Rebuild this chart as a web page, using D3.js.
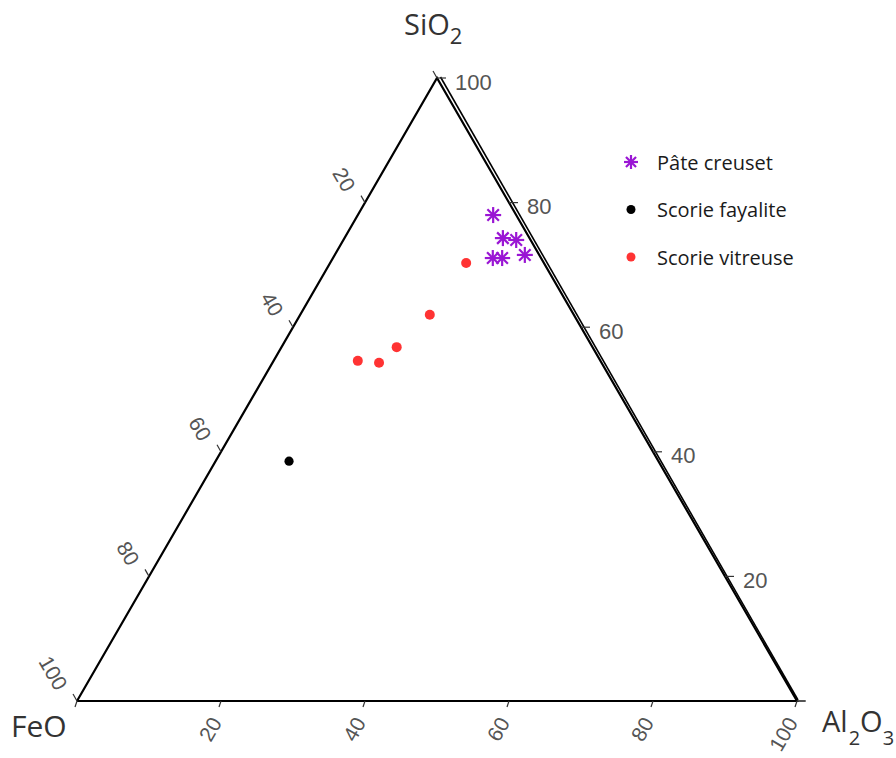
<!DOCTYPE html>
<html>
<head>
<meta charset="utf-8">
<script src="https://cdn.jsdelivr.net/npm/d3@7"></script>
<style>
  html, body { margin: 0; padding: 0; background: #fff; }
  svg { display: block; }
</style>
</head>
<body>
<svg id="chart" width="896" height="758"></svg>
<script>
// ---- Data (percent: SiO2, Al2O3, FeO) ----
const seriesNames = ["Pâte creuset", "Scorie fayalite", "Scorie vitreuse"];
const pateSiO2  = [78.0, 74.3, 74.0, 71.1, 71.1, 71.6];
const pateAl2O3 = [18.8, 22.0, 24.0, 22.2, 23.5, 26.4];
const pateFeO   = [3.2, 3.7, 2.0, 6.7, 5.4, 2.0];
const fayaSiO2  = [38.5];
const fayaAl2O3 = [10.2];
const fayaFeO   = [51.3];
const vitrSiO2  = [70.3, 62.0, 56.8, 54.6, 54.3];
const vitrAl2O3 = [18.9, 18.0, 16.0, 11.7, 14.8];
const vitrFeO   = [10.8, 20.0, 27.2, 33.7, 30.9];
const tickValues = [0, 20, 40, 60, 80, 100];
const tickLabels = ["", "20", "40", "60", "80", "100"];

const svg = d3.select("#chart");

// ternary projection via linear scales
const xs = d3.scaleLinear().domain([0, 100]).range([77, 797]);   // Al2O3 + SiO2/2
const ys = d3.scaleLinear().domain([0, 100]).range([701, 78]);   // SiO2
function proj(si, al, fe) {
  const tot = si + al + fe;
  const s = si / tot * 100, a = al / tot * 100;
  return [xs(a + s / 2), ys(s)];
}
const Vfe = proj(0, 0, 100), Val = proj(0, 100, 0), Vsi = proj(100, 0, 0);

// ---- Triangle ----
const tri = d3.line()([Vfe, Val, Vsi, Vfe]);
svg.append("path").attr("d", tri).attr("fill", "none")
  .attr("stroke", "#000").attr("stroke-width", 2.2).attr("stroke-linejoin", "miter");
// doubled right edge as in reference
svg.append("line")
  .attr("x1", Vsi[0] + 3.5).attr("y1", Vsi[1] - 1)
  .attr("x2", Val[0] + 1).attr("y2", Val[1] - 1)
  .attr("stroke", "#000").attr("stroke-width", 1.6);

const tickColor = "#333";
const labColor = "#555";
const labFont = "Liberation Sans, Arial, sans-serif";

// ---- SiO2 axis: right edge (FeO = 0) ----
tickValues.forEach((v, i) => {
  const p = proj(v, 100 - v, 0);
  svg.append("line").attr("x1", p[0]).attr("y1", p[1]).attr("x2", p[0] + 9).attr("y2", p[1])
    .attr("stroke", tickColor).attr("stroke-width", 1.2);
  if (tickLabels[i]) {
    svg.append("text").attr("x", p[0] + 18).attr("y", p[1] + 4)
      .attr("dominant-baseline", "central")
      .attr("font-family", labFont).attr("font-size", 22).attr("fill", labColor)
      .text(tickLabels[i]);
  }
});

// ---- FeO axis: left edge (Al2O3 = 0) ----
tickValues.forEach((v, i) => {
  const p = proj(100 - v, 0, v);
  svg.append("line").attr("x1", p[0]).attr("y1", p[1])
    .attr("x2", p[0] - 4).attr("y2", p[1] - 7)
    .attr("stroke", tickColor).attr("stroke-width", 1.2);
  if (tickLabels[i]) {
    const lx = p[0] - 15, ly = p[1] - 13;
    svg.append("text").attr("x", lx).attr("y", ly)
      .attr("transform", `rotate(60,${lx},${ly})`)
      .attr("text-anchor", "end").attr("dominant-baseline", "central")
      .attr("font-family", labFont).attr("font-size", 21).attr("fill", labColor)
      .text(tickLabels[i]);
  }
});

// ---- Al2O3 axis: bottom edge (SiO2 = 0) ----
tickValues.forEach((v, i) => {
  const p = proj(0, v, 100 - v);
  svg.append("line").attr("x1", p[0]).attr("y1", p[1])
    .attr("x2", p[0] - 2).attr("y2", p[1] + 6)
    .attr("stroke", tickColor).attr("stroke-width", 1.2);
  if (tickLabels[i]) {
    const lx = p[0] - 5, ly = p[1] + 18;
    svg.append("text").attr("x", lx).attr("y", ly)
      .attr("transform", `rotate(-60,${lx},${ly})`)
      .attr("text-anchor", "end").attr("dominant-baseline", "central")
      .attr("font-family", labFont).attr("font-size", 21).attr("fill", labColor)
      .text(tickLabels[i]);
  }
});
// SiO2 0 tick extension at bottom right
svg.append("line").attr("x1", Val[0]).attr("y1", Val[1]).attr("x2", Val[0] + 8).attr("y2", Val[1])
  .attr("stroke", tickColor).attr("stroke-width", 1.2);

// ---- Axis titles ----
const titleFont = "Open Sans, Noto Sans, sans-serif";
const tSi = svg.append("text").attr("x", 404).attr("y", 35)
  .attr("font-family", titleFont).attr("font-size", 29).attr("fill", "#333");
tSi.append("tspan").text("SiO");
tSi.append("tspan").attr("font-size", 22).attr("dy", 9).text("2");

svg.append("text").attr("x", 11).attr("y", 737)
  .attr("font-family", titleFont).attr("font-size", 30).attr("fill", "#333").text("FeO");

const tAl = svg.append("text").attr("x", 822).attr("y", 732)
  .attr("font-family", titleFont).attr("font-size", 29).attr("fill", "#333");
tAl.append("tspan").text("Al");
tAl.append("tspan").attr("font-size", 20).attr("dy", 13).attr("dx", 1).text("2");
tAl.append("tspan").attr("dy", -13).text("O");
tAl.append("tspan").attr("font-size", 20).attr("dy", 13).text("3");

// ---- Markers ----
const purple = "#9a16d4", red = "#ff3333", black = "#000";
function asterisk(g, x, y, r, color) {
  const a = g.append("g").attr("transform", `translate(${x},${y})`)
    .attr("stroke", color).attr("stroke-width", 2.2).attr("stroke-linecap", "butt");
  a.append("line").attr("x1", -r).attr("y1", 0).attr("x2", r).attr("y2", 0);
  a.append("line").attr("x1", 0).attr("y1", -r).attr("x2", 0).attr("y2", r);
  const d = r * 0.72;
  a.append("line").attr("x1", -d).attr("y1", -d).attr("x2", d).attr("y2", d);
  a.append("line").attr("x1", -d).attr("y1", d).attr("x2", d).attr("y2", -d);
}

const pts = svg.append("g");
pateSiO2.forEach((s, i) => {
  const p = proj(s, pateAl2O3[i], pateFeO[i]);
  asterisk(pts, p[0], p[1], 8, purple);
});
fayaSiO2.forEach((s, i) => {
  const p = proj(s, fayaAl2O3[i], fayaFeO[i]);
  pts.append("circle").attr("cx", p[0]).attr("cy", p[1]).attr("r", 4.6).attr("fill", black);
});
vitrSiO2.forEach((s, i) => {
  const p = proj(s, vitrAl2O3[i], vitrFeO[i]);
  pts.append("circle").attr("cx", p[0]).attr("cy", p[1]).attr("r", 5).attr("fill", red);
});

// ---- Legend ----
const legY = d3.scalePoint().domain(seriesNames).range([162, 257]);
const leg = svg.append("g");
seriesNames.forEach((n, i) => {
  const y = legY(n);
  if (i === 0) asterisk(leg, 631, y, 7, purple);
  else leg.append("circle").attr("cx", 631).attr("cy", y).attr("r", 4.5).attr("fill", i === 1 ? black : red);
  leg.append("text").attr("x", 657).attr("y", y).attr("dominant-baseline", "central")
    .attr("font-family", titleFont).attr("font-size", 20).attr("fill", "#1a1a1a").text(n);
});
</script>
</body>
</html>
